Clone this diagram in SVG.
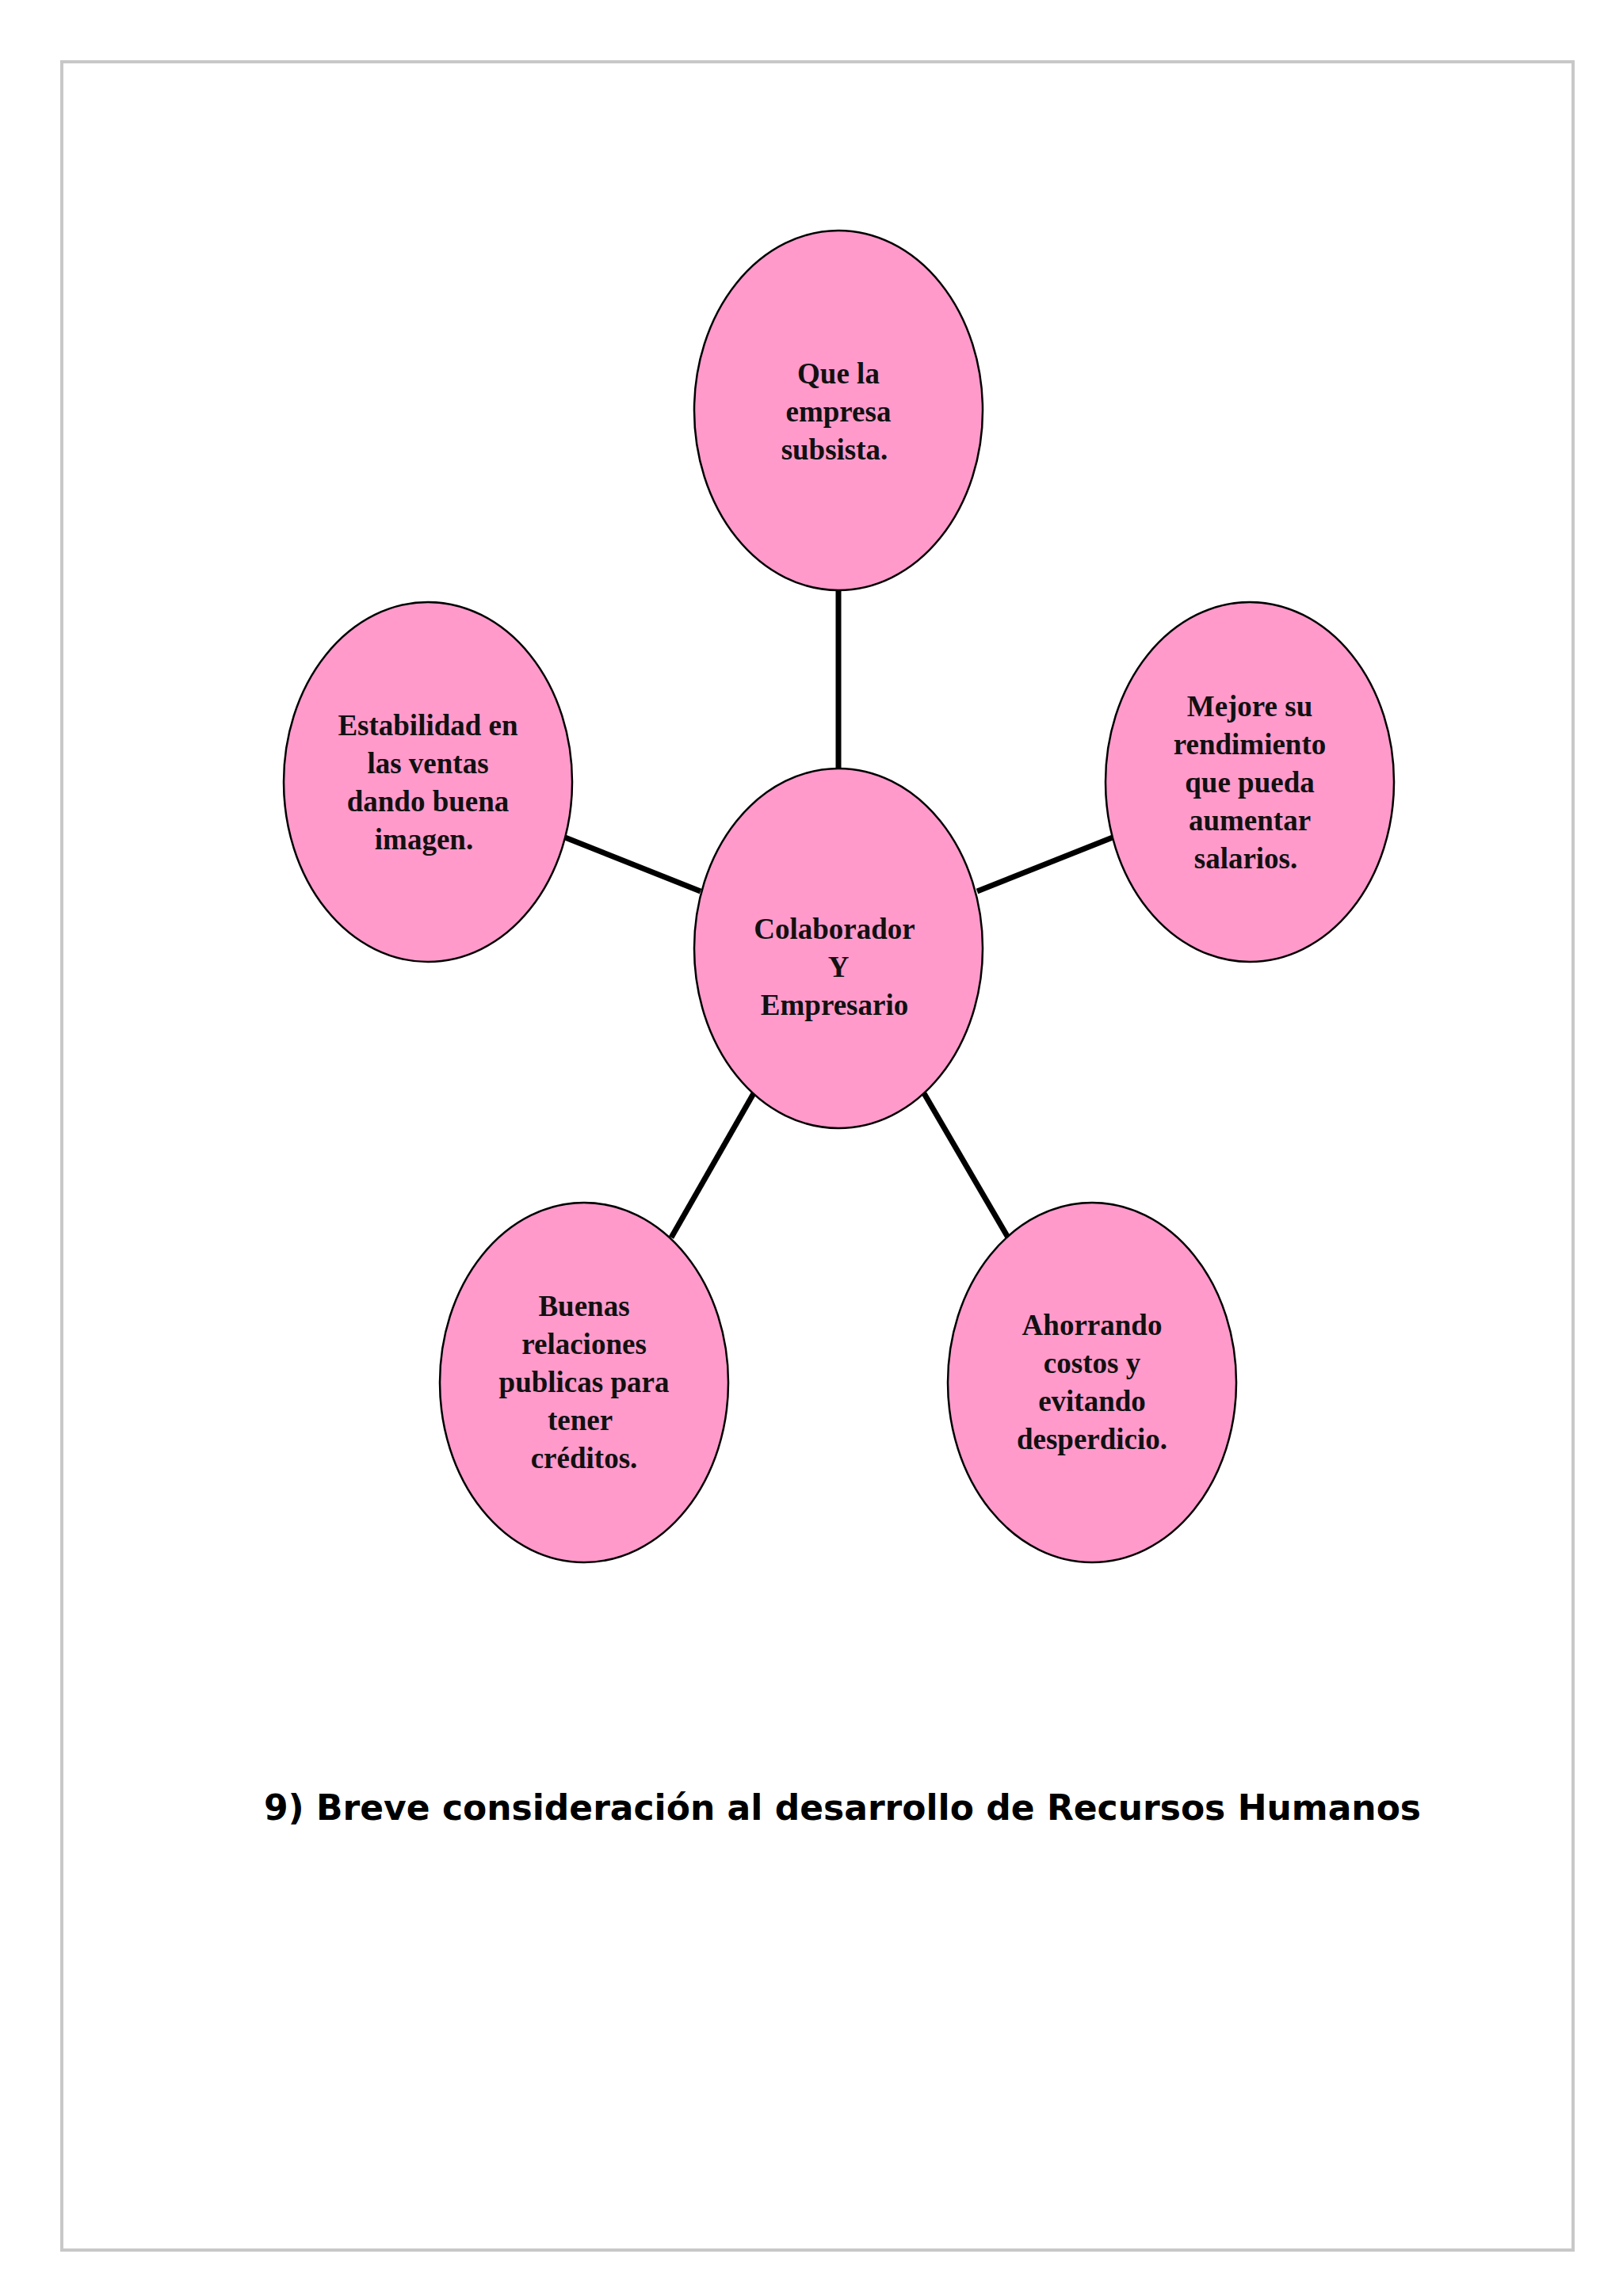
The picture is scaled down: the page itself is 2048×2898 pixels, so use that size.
<svg xmlns="http://www.w3.org/2000/svg" width="2048" height="2898" viewBox="0 0 2048 2898">
<style>
.n{fill:#ff9acb;stroke:#000;stroke-width:2.5}
.t{font-family:"Liberation Serif",serif;font-weight:bold;font-size:37px;text-anchor:middle;fill:#111}
.c{stroke:#000;stroke-width:7;fill:none}
</style>
<rect width="2048" height="2898" fill="#fff"/>
<rect x="78" y="78" width="1907" height="2762" fill="none" stroke="#c8c8c8" stroke-width="4"/>
<g id="connectors">
<line class="c" x1="1058" y1="743" x2="1058" y2="972"/>
<line class="c" x1="713" y1="1057" x2="884" y2="1125"/>
<line class="c" x1="1233" y1="1125" x2="1404" y2="1057"/>
<line class="c" x1="847" y1="1562" x2="951" y2="1380"/>
<line class="c" x1="1166" y1="1380" x2="1272" y2="1562"/>
</g>
<g id="center"><ellipse class="n" cx="1058" cy="1197" rx="182" ry="227"/>
<text class="t" x="1053"><tspan x="1053" y="1185">Colaborador</tspan><tspan x="1058" y="1233">Y</tspan><tspan x="1053" y="1281">Empresario</tspan></text></g>
<g id="top"><ellipse class="n" cx="1058" cy="518" rx="182" ry="227"/>
<text class="t"><tspan x="1058" y="484">Que la</tspan><tspan x="1058" y="532">empresa</tspan><tspan x="1053" y="580">subsista.</tspan></text></g>
<g id="right"><ellipse class="n" cx="1577" cy="987" rx="182" ry="227"/>
<text class="t"><tspan x="1577" y="904">Mejore su</tspan><tspan x="1577" y="952">rendimiento</tspan><tspan x="1577" y="1000">que pueda</tspan><tspan x="1577" y="1048">aumentar</tspan><tspan x="1572" y="1096">salarios.</tspan></text></g>
<g id="left"><ellipse class="n" cx="540" cy="987" rx="182" ry="227"/>
<text class="t"><tspan x="540" y="928">Estabilidad en</tspan><tspan x="540" y="976">las ventas</tspan><tspan x="540" y="1024">dando buena</tspan><tspan x="535" y="1072">imagen.</tspan></text></g>
<g id="bottomleft"><ellipse class="n" cx="737" cy="1745" rx="182" ry="227"/>
<text class="t"><tspan x="737" y="1661">Buenas</tspan><tspan x="737" y="1709">relaciones</tspan><tspan x="737" y="1757">publicas para</tspan><tspan x="732" y="1805">tener</tspan><tspan x="737" y="1853">créditos.</tspan></text></g>
<g id="bottomright"><ellipse class="n" cx="1378" cy="1745" rx="182" ry="227"/>
<text class="t"><tspan x="1378" y="1685">Ahorrando</tspan><tspan x="1378" y="1733">costos y</tspan><tspan x="1378" y="1781">evitando</tspan><tspan x="1378" y="1829">desperdicio.</tspan></text></g>
<text x="1063" y="2297" font-family="'Comic Sans MS','DejaVu Sans',sans-serif" font-weight="bold" font-size="44" text-anchor="middle" fill="#000">9) Breve consideración al desarrollo de Recursos Humanos</text>
</svg>
